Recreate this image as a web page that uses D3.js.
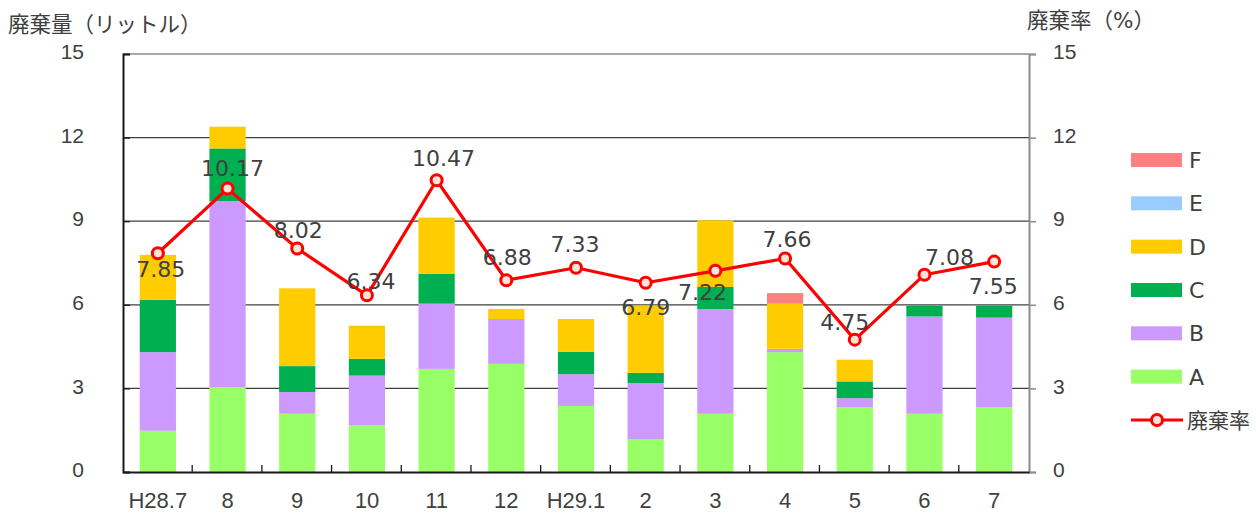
<!DOCTYPE html>
<html>
<head>
<meta charset="utf-8">
<script src="https://cdn.jsdelivr.net/npm/d3@7"></script>
<style>
  body { margin: 0; background: #fff; }
  svg { display: block; font-family: "DejaVu Sans", "Noto Sans CJK JP", sans-serif; }
  text { fill: #404040; }
</style>
</head>
<body>
<div id="chart"></div>
<script>
// months on the x axis
const months = ['H28.7', '8', '9', '10', '11', '12', 'H29.1', '2', '3', '4', '5', '6', '7'];

// waste volume per category (litres), stacked bottom -> top
const seriesA = [1.48, 3.05, 2.09, 1.67, 3.70, 3.88, 2.37, 1.17, 2.09, 4.30, 2.33, 2.09, 2.33];
const seriesB = [2.82, 6.67, 0.78, 1.79, 2.34, 1.61, 1.14, 2.02, 3.76, 0.12, 0.32, 3.49, 3.21];
const seriesC = [1.88, 1.89, 0.93, 0.60, 1.07, 0.00, 0.80, 0.37, 0.79, 0.00, 0.60, 0.39, 0.43];
const seriesD = [1.61, 0.78, 2.79, 1.19, 2.02, 0.36, 1.18, 2.41, 2.39, 1.62, 0.78, 0.00, 0.00];
const seriesE = [0, 0, 0, 0, 0, 0, 0, 0, 0, 0, 0, 0, 0];
const seriesF = [0, 0, 0, 0, 0, 0, 0, 0, 0, 0.38, 0, 0, 0];

// waste rate (%)
const wasteRate = [7.85, 10.17, 8.02, 6.34, 10.47, 6.88, 7.33, 6.79, 7.22, 7.66, 4.75, 7.08, 7.55];

const leftTicks = [0, 3, 6, 9, 12, 15];
const rightTicks = [0, 3, 6, 9, 12, 15];

const seriesNames = ['A', 'B', 'C', 'D', 'E', 'F'];
const seriesColors = ['#99ff66', '#cc99ff', '#00b050', '#ffcc00', '#99ccff', '#ff8080'];

// where each rate label sits relative to its point (layout only)
const labelShift = [[3, 16], [5, -21], [1, -18], [4, -14], [7, -22], [1, -23], [-1, -24],
                    [0, 24], [-13, 21], [2, -19], [-10, -18], [25, -18], [-1, 24]];

const width = 1256, height = 514;
const margin = { top: 54, right: 227, bottom: 42, left: 123 };
const innerW = width - margin.left - margin.right;
const innerH = height - margin.top - margin.bottom;

const svg = d3.select('#chart').append('svg')
  .attr('width', width)
  .attr('height', height);

const g = svg.append('g').attr('transform', `translate(${margin.left},${margin.top})`);

const x = d3.scaleBand().domain(months).range([0, innerW]).paddingInner(0.48).paddingOuter(0.24);
const yL = d3.scaleLinear().domain([0, 15]).range([innerH, 0]);
const yR = d3.scaleLinear().domain([0, 15]).range([innerH, 0]);

// gridlines
g.append('g')
  .selectAll('line')
  .data(leftTicks.filter(t => t > 0 && t < 15))
  .enter().append('line')
  .attr('x1', 0).attr('x2', innerW)
  .attr('y1', d => yL(d)).attr('y2', d => yL(d))
  .attr('stroke', '#404040').attr('stroke-width', 1.3);

// top border
g.append('line')
  .attr('x1', 0).attr('x2', innerW).attr('y1', yL(15)).attr('y2', yL(15))
  .attr('stroke', '#8c8c8c').attr('stroke-width', 1.5);

// stacked bars
const rows = months.map((m, i) => ({
  month: m, A: seriesA[i], B: seriesB[i], C: seriesC[i], D: seriesD[i], E: seriesE[i], F: seriesF[i]
}));
const stacked = d3.stack().keys(seriesNames)(rows);

g.append('g')
  .selectAll('g')
  .data(stacked)
  .enter().append('g')
  .attr('fill', (d, i) => seriesColors[i])
  .selectAll('rect')
  .data(d => d)
  .enter().append('rect')
  .attr('x', d => x(d.data.month))
  .attr('width', x.bandwidth())
  .attr('y', d => yL(d[1]))
  .attr('height', d => yL(d[0]) - yL(d[1]));

// axes
const leftAxis = g.append('g')
  .call(d3.axisLeft(yL).tickValues(leftTicks).tickSize(-7).tickPadding(39));
leftAxis.select('.domain').attr('stroke', '#1a1a1a').attr('stroke-width', 2);
leftAxis.selectAll('.tick line').attr('stroke', '#1a1a1a').attr('stroke-width', 1.3);
leftAxis.selectAll('.tick text').attr('font-size', 21).attr('dy', '0.22em').style('fill', '#404040');

const rightAxis = g.append('g')
  .attr('transform', `translate(${innerW},0)`)
  .call(d3.axisRight(yR).tickValues(rightTicks).tickSize(7).tickPadding(17));
rightAxis.select('.domain').attr('stroke', '#8c8c8c').attr('stroke-width', 2);
rightAxis.selectAll('.tick line').attr('stroke', '#8c8c8c').attr('stroke-width', 1.5);
rightAxis.selectAll('.tick text').attr('font-size', 21).attr('dy', '0.22em').style('fill', '#404040');

const bottomAxis = g.append('g')
  .attr('transform', `translate(0,${innerH})`)
  .call(d3.axisBottom(x).tickSize(0).tickPadding(20));
bottomAxis.select('.domain').attr('stroke', '#1a1a1a').attr('stroke-width', 2);
bottomAxis.selectAll('.tick text').attr('font-size', 22).style('fill', '#404040');

// category separators on the bottom axis
const step = x.step();
g.append('g')
  .selectAll('line')
  .data(months.slice(1))
  .enter().append('line')
  .attr('x1', d => x(d) - x.paddingInner() * step / 2 - 0.5)
  .attr('x2', d => x(d) - x.paddingInner() * step / 2 - 0.5)
  .attr('y1', innerH).attr('y2', innerH - 7)
  .attr('stroke', '#1a1a1a').attr('stroke-width', 1.3);

// rate line
const cx = d => x(d) + x.bandwidth() / 2;
const line = d3.line().x((d, i) => cx(months[i])).y(d => yR(d));

g.append('path')
  .datum(wasteRate)
  .attr('fill', 'none')
  .attr('stroke', '#ff0000')
  .attr('stroke-width', 3.2)
  .attr('stroke-linejoin', 'round')
  .attr('d', line);

g.append('g')
  .selectAll('circle')
  .data(wasteRate)
  .enter().append('circle')
  .attr('cx', (d, i) => cx(months[i]))
  .attr('cy', d => yR(d))
  .attr('r', 5.5)
  .attr('fill', '#fce4d6')
  .attr('stroke', '#ff0000')
  .attr('stroke-width', 3);

g.append('g')
  .selectAll('text')
  .data(wasteRate)
  .enter().append('text')
  .attr('x', (d, i) => cx(months[i]) + labelShift[i][0])
  .attr('y', (d, i) => yR(d) + labelShift[i][1])
  .attr('dy', '0.36em')
  .attr('text-anchor', 'middle')
  .attr('font-size', 22)
  .text(d => d.toFixed(2));

// axis titles
svg.append('text')
  .attr('x', 8).attr('y', 32)
  .attr('font-size', 21.5)
  .text('廃棄量（リットル）');

svg.append('text')
  .attr('x', 1027).attr('y', 28)
  .attr('font-size', 21.5)
  .text('廃棄率（%）');

// legend
const legend = svg.append('g').attr('transform', 'translate(1131,0)');
const legendOrder = [5, 4, 3, 2, 1, 0];
const rowY = d3.scaleLinear().domain([0, 6]).range([160, 420]);

legendOrder.forEach((s, k) => {
  legend.append('rect')
    .attr('x', 0).attr('y', rowY(k) - 7)
    .attr('width', 51).attr('height', 14)
    .attr('fill', seriesColors[s]);
  legend.append('text')
    .attr('x', 58).attr('y', rowY(k))
    .attr('dy', '0.36em')
    .attr('font-size', 22)
    .text(seriesNames[s]);
});

legend.append('line')
  .attr('x1', 0).attr('x2', 52).attr('y1', rowY(6)).attr('y2', rowY(6))
  .attr('stroke', '#ff0000').attr('stroke-width', 3.2);
legend.append('circle')
  .attr('cx', 26).attr('cy', rowY(6)).attr('r', 5.5)
  .attr('fill', '#fce4d6').attr('stroke', '#ff0000').attr('stroke-width', 3);
legend.append('text')
  .attr('x', 56).attr('y', rowY(6))
  .attr('dy', '0.36em')
  .attr('font-size', 21)
  .text('廃棄率');
</script>
</body>
</html>
